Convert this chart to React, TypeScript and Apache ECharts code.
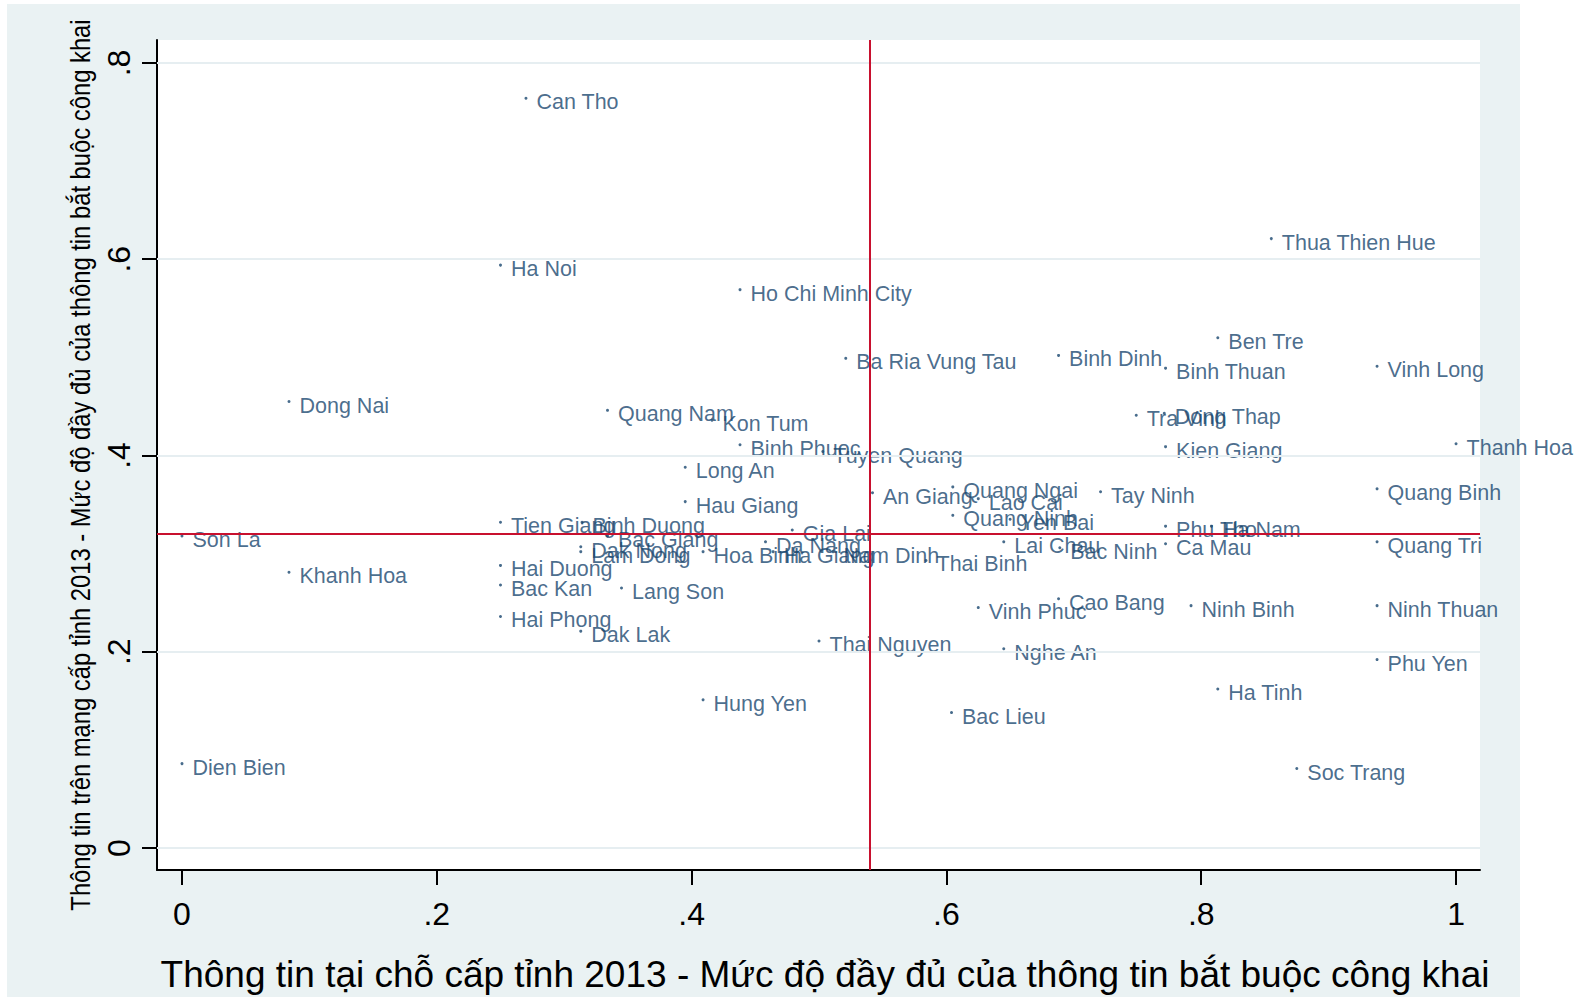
import React, { useEffect, useRef } from "react";
import * as echarts from "echarts";

const provinces = [
  "Can Tho", "Ha Noi", "Ho Chi Minh City", "Thua Thien Hue", "Ben Tre", "Ba Ria Vung Tau", "Binh Dinh", "Binh Thuan", "Vinh Long", "Dong Nai",
  "Quang Nam", "Kon Tum", "Binh Phuoc", "Tuyen Quang", "Long An", "Thanh Hoa", "Tra Vinh", "Dong Thap", "Kien Giang", "Quang Ngai",
  "An Giang", "Lao Cai", "Tay Ninh", "Quang Binh", "Hau Giang", "Quang Ninh", "Yen Bai", "Tien Giang", "Binh Duong", "Bac Giang",
  "Gia Lai", "Phu Tho", "Ha Nam", "Son La", "Dak Nong", "Lam Dong", "Hoa Binh", "Da Nang", "Ha Giang", "Nam Dinh",
  "Thai Binh", "Lai Chau", "Bac Ninh", "Ca Mau", "Quang Tri", "Khanh Hoa", "Hai Duong", "Bac Kan", "Lang Son", "Cao Bang",
  "Vinh Phuc", "Ninh Binh", "Ninh Thuan", "Hai Phong", "Dak Lak", "Thai Nguyen", "Nghe An", "Phu Yen", "Ha Tinh", "Hung Yen",
  "Bac Lieu", "Dien Bien", "Soc Trang",
];

const xValues = [
  0.270, 0.250, 0.438, 0.855, 0.813, 0.521, 0.688, 0.772, 0.938, 0.084,
  0.334, 0.416, 0.438, 0.503, 0.395, 1.0, 0.749, 0.771, 0.772, 0.605,
  0.542, 0.625, 0.721, 0.938, 0.395, 0.605, 0.650, 0.250, 0.314, 0.334,
  0.479, 0.772, 0.808, 0.0, 0.313, 0.313, 0.409, 0.458, 0.464, 0.511,
  0.584, 0.645, 0.689, 0.772, 0.938, 0.084, 0.250, 0.250, 0.345, 0.688,
  0.625, 0.792, 0.938, 0.250, 0.313, 0.500, 0.645, 0.938, 0.813, 0.409,
  0.604, 0.0, 0.875,
];

const yValues = [
  0.764, 0.594, 0.569, 0.621, 0.520, 0.499, 0.502, 0.489, 0.491, 0.455,
  0.446, 0.436, 0.411, 0.404, 0.388, 0.412, 0.441, 0.443, 0.409, 0.368,
  0.362, 0.356, 0.363, 0.366, 0.353, 0.339, 0.335, 0.332, 0.332, 0.318,
  0.324, 0.328, 0.328, 0.318, 0.307, 0.302, 0.302, 0.312, 0.302, 0.302,
  0.293, 0.312, 0.306, 0.310, 0.312, 0.281, 0.288, 0.268, 0.265, 0.254,
  0.245, 0.247, 0.247, 0.236, 0.221, 0.211, 0.203, 0.192, 0.162, 0.151,
  0.138, 0.086, 0.081,
];

const xTicks = [0, 0.2, 0.4, 0.6, 0.8, 1];
const yTicks = [0, 0.2, 0.4, 0.6, 0.8];
const xTickLabels = ["0", ".2", ".4", ".6", ".8", "1"];
const yTickLabels = ["0", ".2", ".4", ".6", ".8"];
const meanX = 0.5377;
const meanY = 0.32;

const xTitle = "Thông tin tại chỗ cấp tỉnh 2013 - Mức độ đầy đủ của thông tin bắt buộc công khai";
const yTitle = "Thông tin trên mạng cấp tỉnh 2013 - Mức độ đầy đủ của thông tin bắt buộc công khai";

const FONT = "'Liberation Sans', Arial, Helvetica, sans-serif";
const NAVY = "#1a476f";

export default function App() {
  const ref = useRef<HTMLDivElement>(null);
  useEffect(() => {
    if (!ref.current) return;
    const chart = echarts.init(ref.current, null, { renderer: "svg" });
    const data = provinces.map((n, i) => ({ name: n, value: [xValues[i], yValues[i]] }));
    const fmtX = (v: number) => {
      const i = xTicks.findIndex((t) => Math.abs(t - v) < 1e-6);
      return i >= 0 ? xTickLabels[i] : "";
    };
    const fmtY = (v: number) => {
      const i = yTicks.findIndex((t) => Math.abs(t - v) < 1e-6);
      return i >= 0 ? yTickLabels[i] : "";
    };
    chart.setOption({
      animation: false,
      backgroundColor: "transparent",
      grid: {
        left: 157,
        top: 40,
        width: 1323,
        height: 830,
        show: true,
        backgroundColor: "#ffffff",
        borderWidth: 0,
        containLabel: false,
      },
      xAxis: {
        type: "value",
        min: -0.0196,
        max: 1.0188,
        axisLine: { show: true, onZero: false, lineStyle: { color: "#000", width: 2 } },
        axisTick: { show: true, length: 15, lineStyle: { color: "#000", width: 2 }, customValues: xTicks },
        axisLabel: {
          show: true,
          customValues: xTicks,
          formatter: fmtX,
          fontSize: 32,
          fontFamily: FONT,
          color: "#000",
          margin: 28,
        },
        splitLine: { show: false },
      },
      yAxis: {
        type: "value",
        min: -0.0224,
        max: 0.8234,
        axisLine: { show: true, onZero: false, lineStyle: { color: "#000", width: 2 } },
        axisTick: { show: true, length: 15, lineStyle: { color: "#000", width: 2 }, customValues: yTicks },
        axisLabel: {
          show: true,
          customValues: yTicks,
          formatter: fmtY,
          rotate: 90,
          fontSize: 32,
          fontFamily: FONT,
          color: "#000",
          margin: 22,
        },
        splitLine: { show: false },
      },
      graphic: [
        {
          type: "text",
          x: 825,
          y: 974,
          style: {
            text: xTitle,
            fontSize: 37,
            fontFamily: FONT,
            fill: "#000",
            align: "center",
            verticalAlign: "middle",
          },
        },
        {
          type: "text",
          x: 80,
          y: 465,
          rotation: Math.PI / 2,
          scaleX: 0.85,
          style: {
            text: yTitle,
            fontSize: 28,
            fontFamily: FONT,
            fill: "#000",
            align: "center",
            verticalAlign: "middle",
          },
        },
      ],
      series: [
        {
          type: "line",
          data: [],
          silent: true,
          markLine: {
            silent: true,
            symbol: ["none", "none"],
            label: { show: false },
            lineStyle: { color: "#e6eef1", width: 2, type: "solid" },
            data: yTicks.map((t) => ({ yAxis: t })),
          },
          z: 1,
        },
        {
          type: "scatter",
          data,
          symbol: "circle",
          symbolSize: 3,
          itemStyle: { color: NAVY },
          label: {
            show: true,
            position: "right",
            distance: 9,
            offset: [0, 4],
            formatter: (p: any) => p.name,
            fontSize: 21.5,
            fontFamily: FONT,
            color: NAVY,
          },
          z: 3,
        },
        {
          type: "line",
          data: [],
          silent: true,
          markLine: {
            silent: true,
            symbol: ["none", "none"],
            label: { show: false },
            lineStyle: { color: "#c8102e", width: 2, type: "solid" },
            data: [{ xAxis: meanX }, { yAxis: meanY }],
          },
          z: 4,
        },
      ],
    });
    return () => chart.dispose();
  }, []);
  return (
    <div style={{ position: "fixed", left: 0, top: 0, width: 1577, height: 997, background: "#ffffff" }}>
      <div style={{ position: "absolute", left: 7, top: 4, width: 1513, height: 993, background: "#eaf2f3" }} />
      <div ref={ref} style={{ position: "absolute", left: 0, top: 0, width: 1577, height: 997 }} />
    </div>
  );
}
